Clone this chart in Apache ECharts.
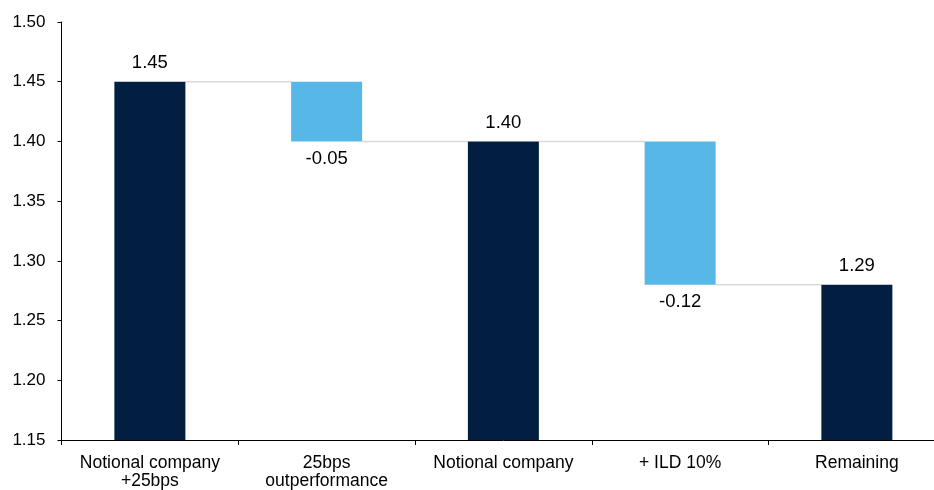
<!DOCTYPE html>
<html>
<head>
<meta charset="utf-8">
<script src="https://cdn.jsdelivr.net/npm/echarts@6/dist/echarts.min.js"></script>
<style>
  html, body { margin: 0; padding: 0; background: #fff; overflow: hidden; }
  /* the plot in the reference runs past the right edge, so the canvas is a bit wider than the window */
  #chart { width: 946px; height: 490px; }
</style>
</head>
<body>
<div id="chart"></div>
<script>
// waterfall data
const categories = ["Notional company\n+25bps", "25bps\noutperformance", "Notional company", "+ ILD 10%", "Remaining"];
const baseValues = [0, 1.40, 0, 1.28, 0];          // invisible floor under each bar
const barValues = [1.45, 0.05, 1.40, 0.12, 1.28];  // visible part of each bar
const isTotal = [true, false, true, false, true];
const barLabels = ["1.45", "-0.05", "1.40", "-0.12", "1.29"];
const connectorLevels = [1.45, 1.40, 1.40, 1.28];  // running total after each bar
const yTicks = { min: 1.15, max: 1.5, interval: 0.05 };

const DARK = "#021F42";
const LIGHT = "#57B8E7";
const FONT = "Liberation Sans, Arial, sans-serif";
const BAR_W = 71;

const chart = echarts.init(document.getElementById("chart"));
chart.setOption({
  animation: false,
  textStyle: { fontFamily: FONT },
  grid: { left: 61.5, right: 0.75, top: 22, bottom: 50, containLabel: false },
  xAxis: {
    type: "category",
    data: categories,
    axisLine: { lineStyle: { color: "#000", width: 1 } },
    axisTick: { show: true, length: 5, lineStyle: { color: "#000" } },
    axisLabel: { color: "#000", fontSize: 17.5, fontFamily: FONT, margin: 14, lineHeight: 18, interval: 0 },
  },
  yAxis: {
    type: "value",
    min: yTicks.min,
    max: yTicks.max,
    interval: yTicks.interval,
    splitLine: { show: false },
    axisLine: { show: true, lineStyle: { color: "#000", width: 1 } },
    axisTick: { show: true, length: 4, lineStyle: { color: "#000" } },
    axisLabel: {
      color: "#000",
      fontSize: 17,
      fontFamily: FONT,
      margin: 16,
      formatter: (v) => v.toFixed(2),
    },
  },
  series: [
    {
      name: "base",
      type: "bar",
      stack: "wf",
      barWidth: BAR_W,
      itemStyle: { color: "transparent" },
      emphasis: { disabled: true },
      data: baseValues,
    },
    {
      name: "value",
      type: "bar",
      stack: "wf",
      barWidth: BAR_W,
      data: barValues.map((v, i) => ({
        value: v,
        itemStyle: { color: isTotal[i] ? DARK : LIGHT },
        label: {
          show: true,
          position: isTotal[i] ? "top" : "bottom",
          distance: isTotal[i] ? 9 : 8,
          formatter: barLabels[i],
          color: "#000",
          fontSize: 18.5,
          fontFamily: FONT,
        },
      })),
    },
    {
      name: "connectors",
      type: "custom",
      z: 1,
      data: connectorLevels.map((lvl, i) => [i, lvl]),
      renderItem(params, api) {
        const p = api.coord([api.value(0), api.value(1)]);
        const band = api.size([1, 0])[0];
        return {
          type: "line",
          shape: { x1: p[0] + BAR_W / 2, y1: p[1], x2: p[0] + band - BAR_W / 2, y2: p[1] },
          style: { stroke: "#D9D9D9", lineWidth: 1.5 },
        };
      },
    },
  ],
});
</script>
</body>
</html>
